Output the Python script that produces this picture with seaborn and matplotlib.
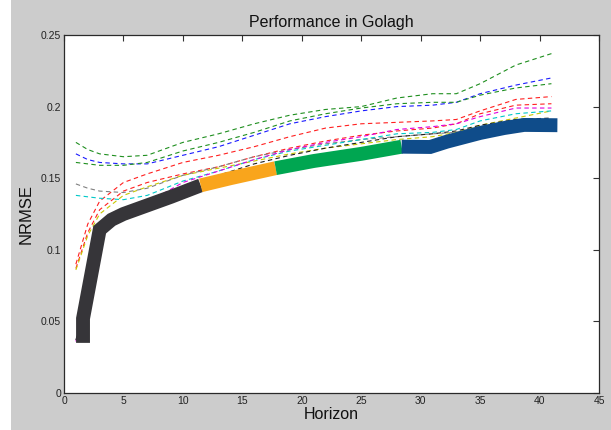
import matplotlib
matplotlib.use("Agg")
import matplotlib.pyplot as plt
import seaborn as sns
from matplotlib.patches import Rectangle

# ---------------- data ----------------
horizon = [1, 2, 3, 5, 7, 10, 13, 16, 19, 22, 25, 28, 31, 33, 35, 38, 41]

green_a = [0.175, 0.170, 0.167, 0.165, 0.166, 0.175, 0.181, 0.188, 0.194, 0.198, 0.200, 0.206, 0.209, 0.209, 0.216, 0.229, 0.237]
blue_a = [0.167, 0.163, 0.161, 0.160, 0.160, 0.166, 0.172, 0.180, 0.188, 0.193, 0.197, 0.200, 0.201, 0.203, 0.209, 0.215, 0.220]
green_b = [0.161, 0.160, 0.159, 0.159, 0.161, 0.169, 0.175, 0.182, 0.190, 0.195, 0.199, 0.202, 0.203, 0.203, 0.208, 0.213, 0.216]
red_a = [0.090, 0.118, 0.134, 0.147, 0.153, 0.161, 0.166, 0.172, 0.179, 0.185, 0.188, 0.189, 0.190, 0.191, 0.197, 0.205, 0.207]
red_b = [0.087, 0.112, 0.128, 0.141, 0.147, 0.153, 0.158, 0.165, 0.171, 0.176, 0.180, 0.183, 0.185, 0.188, 0.195, 0.201, 0.202]
yellow = [0.086, 0.110, 0.125, 0.138, 0.144, 0.152, 0.157, 0.162, 0.167, 0.171, 0.174, 0.177, 0.179, 0.182, 0.187, 0.192, 0.197]
gray = [0.146, 0.143, 0.141, 0.140, 0.143, 0.152, 0.158, 0.165, 0.170, 0.174, 0.177, 0.179, 0.181, 0.182, 0.186, 0.190, 0.191]
cyan = [0.138, 0.137, 0.136, 0.135, 0.138, 0.148, 0.155, 0.163, 0.169, 0.173, 0.177, 0.181, 0.182, 0.184, 0.190, 0.195, 0.197]
magenta = [0.036, 0.068, 0.112, 0.126, 0.133, 0.147, 0.155, 0.163, 0.170, 0.175, 0.179, 0.184, 0.186, 0.188, 0.193, 0.199, 0.199]
black = [0.037, 0.068, 0.113, 0.126, 0.132, 0.144, 0.152, 0.160, 0.166, 0.171, 0.175, 0.179, 0.181, 0.183, 0.187, 0.191, 0.192]

dashed_series = [green_a, blue_a, green_b, red_a, red_b, yellow, gray, cyan, magenta, black]
dashed_colors = ["#1f8f1f", "#1a1aff", "#1f8f1f", "#ff2020", "#ff2020", "#c8c800",
                 "#808080", "#00c8c8", "#e000e0", "#202020"]

best_x = [1.6, 1.6, 3.0, 4.0, 5.0, 7.0, 9.0, 11.5, 14.0, 17.8, 21.0, 25.0, 28.4,
          30.8, 32.2, 35.0, 37.0, 38.7, 41.5]
best_y = [0.035, 0.052, 0.114, 0.121, 0.125, 0.131, 0.137, 0.145, 0.150, 0.157, 0.162,
          0.167, 0.172, 0.1718, 0.1755, 0.1816, 0.185, 0.1872, 0.187]
segment_bounds = [(0, 7), (7, 9), (9, 12), (12, 18)]
segment_colors = ["#363539", "#f9a51c", "#00a651", "#0f4c8a"]

xticks = [0, 5, 10, 15, 20, 25, 30, 35, 40, 45]
yticks = [0, 0.05, 0.1, 0.15, 0.2, 0.25]
ytick_labels = ["0", "0.05", "0.1", "0.15", "0.2", "0.25"]

# ---------------- figure ----------------
sns.set_theme(style="white")
plt.rcParams['font.family'] = ['Liberation Sans', 'DejaVu Sans']

W, H = 611, 430
fig = plt.figure(figsize=(W / 100, H / 100), dpi=100, facecolor="#cccccc")
fig.patches.append(Rectangle((0, 0), 11 / W, 1, transform=fig.transFigure,
                             facecolor="white", edgecolor="none", zorder=-10))
ax = fig.add_axes([64 / W, 37 / H, 535 / W, 358 / H])
ax.set_facecolor("white")

for vals, col in zip(dashed_series, dashed_colors):
    sns.lineplot(x=horizon, y=vals, ax=ax, color=col, lw=0.8,
                 linestyle=(0, (4, 3)), estimator=None, sort=False, zorder=2)

for (i0, i1), col in zip(segment_bounds, segment_colors):
    sns.lineplot(x=best_x[i0:i1 + 1], y=best_y[i0:i1 + 1], ax=ax, color=col, lw=10,
                 solid_capstyle="butt", solid_joinstyle="miter",
                 estimator=None, sort=False, zorder=3)

ax.set_xlim(0, 45)
ax.set_ylim(0, 0.25)
ax.set_xticks(xticks)
ax.set_xticklabels([str(t) for t in xticks])
ax.set_yticks(yticks)
ax.set_yticklabels(ytick_labels)
ax.tick_params(direction="in", top=True, right=True, length=4, width=0.8,
               color="#333333", labelsize=7.5, labelcolor="#222222", pad=2)
for sp in ax.spines.values():
    sp.set_visible(True)
    sp.set_color("#2a2a2a")
    sp.set_linewidth(0.9)

ax.set_title("Performance in Golagh", fontsize=11.5, pad=6, color="#111111")
ax.set_xlabel("Horizon", fontsize=11.5, labelpad=1, color="#111111")
ax.set_ylabel("NRMSE", fontsize=12, labelpad=5, color="#111111")

fig.savefig("out.png", dpi=100, facecolor=fig.get_facecolor())
